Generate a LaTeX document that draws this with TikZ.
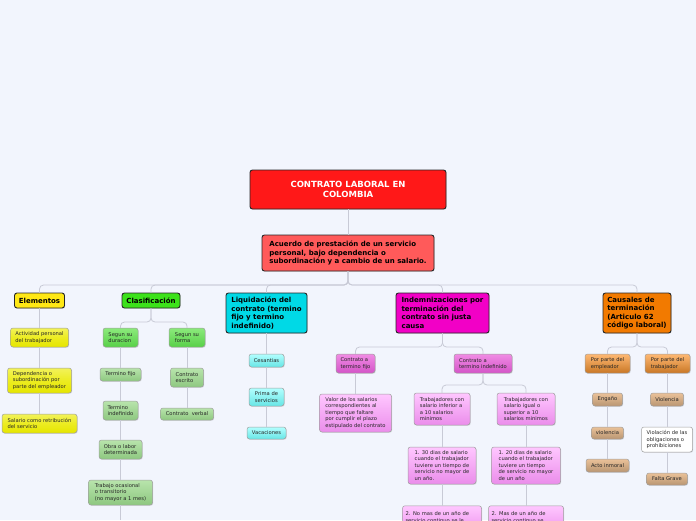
\documentclass[tikz,border=0pt]{standalone}
\usepackage{fontspec}
\setmainfont{DejaVu Sans}
\usepackage{tikz}
\usetikzlibrary{shadows}
\definecolor{bgcol}{HTML}{F2F5FD}
\definecolor{lineg}{HTML}{C8CAD6}
\definecolor{titlered}{HTML}{FF1818}
\definecolor{acuerdored}{HTML}{FF5A5A}
\definecolor{elemyel}{HTML}{FFE815}
\definecolor{clasgreen}{HTML}{3CE21A}
\definecolor{liqcyan}{HTML}{00D9E6}
\definecolor{indmag}{HTML}{F200C6}
\definecolor{causor}{HTML}{F27A00}
\definecolor{grtop}{HTML}{8CEA7C}
\definecolor{grbot}{HTML}{58D048}
\definecolor{glftop}{HTML}{B8E4AC}
\definecolor{glfbot}{HTML}{8EC880}
\definecolor{mgtop}{HTML}{F08CE4}
\definecolor{mgbot}{HTML}{D454C8}
\tikzset{
  box/.style={rounded corners=2.5pt, inner sep=2pt, align=left,
    drop shadow={shadow xshift=0.7pt, shadow yshift=-0.7pt, opacity=0.25}},
  topic/.style={box, draw=black!85, line width=0.9pt, text=black,
    font=\bfseries\fontsize{7}{8.5}\selectfont},
  sub/.style={box, draw=gray!75, line width=0.5pt, text=black!85,
    font=\fontsize{5.2}{6.5}\selectfont},
  yelkid/.style={sub, top color=yellow!55!white!90!olive, bottom color=yellow!80!olive},
  greenkid/.style={sub, top color=grtop, bottom color=grbot},
  greenleaf/.style={sub, top color=glftop, bottom color=glfbot},
  cyankid/.style={sub, top color=cyan!30!white, bottom color=cyan!55!white!90!black},
  magkid/.style={sub, top color=mgtop, bottom color=mgbot},
  magleaf/.style={sub, top color=magenta!22!white, bottom color=magenta!40!white!92!black},
  orkid/.style={sub, top color=orange!55!white, bottom color=orange!75!black!85!white},
  orleaf/.style={sub, top color=orange!35!white!92!black, bottom color=orange!50!black!55!white},
  conn/.style={draw=lineg, line width=0.8pt, rounded corners=4pt},
}
\begin{document}
\begin{tikzpicture}[x=1pt, y=-1pt]
  \fill[bgcol] (0,0) rectangle (696,520);
  \useasboundingbox (0,0) rectangle (696,520);
  \clip (0,0) rectangle (696,520);

  % main topic
  \node[box, draw=black!85, line width=0.9pt, fill=titlered, text=white, align=center,
    font=\bfseries\fontsize{8.5}{10.5}\selectfont, minimum width=196pt, minimum height=39pt]
    (title) at (348,189.5) {CONTRATO LABORAL EN\\COLOMBIA};
  \node[topic, fill=acuerdored, minimum width=172pt, minimum height=36pt]
    (acuerdo) at (348,253) {Acuerdo de prestación de un servicio\\personal, bajo dependencia o\\subordinación y a cambio de un salario.};

  % main branches
  \node[topic, fill=elemyel, align=center, minimum width=50pt, minimum height=15pt] (elem) at (39.5,300.5) {Elementos};
  \node[topic, fill=clasgreen, align=center, minimum width=58pt, minimum height=15pt] (clasif) at (151,300.5) {Clasificación};
  \node[topic, fill=liqcyan, minimum width=81pt, minimum height=40pt] (liquid) at (266.5,313)
    {Liquidación del\\contrato (termino\\fijo y termino\\indefinido)};
  \node[topic, fill=indmag, minimum width=93pt, minimum height=40pt] (indem) at (442.5,313)
    {Indemnizaciones por\\terminación del\\contrato sin justa\\causa};
  \node[topic, fill=causor, minimum width=68pt, minimum height=40pt] (causal) at (637,313)
    {Causales de\\terminación\\(Articulo 62\\código laboral)};

  % Elementos
  \node[yelkid, minimum width=58pt, minimum height=19pt] (act) at (39.5,337.5) {Actividad personal\\del trabajador};
  \node[yelkid, minimum width=64pt, minimum height=25pt] (dep) at (39.5,380.5) {Dependencia o\\subordinación por\\parte del empleador};
  \node[yelkid, minimum width=75pt, minimum height=19pt] (sal) at (39.5,423.5) {Salario como retribución\\del servicio};

  % Clasificacion
  \node[greenkid, minimum width=35pt, minimum height=19pt] (durac) at (120.5,337.5) {Segun su\\duracion};
  \node[greenkid, minimum width=36pt, minimum height=19pt] (forma) at (187,337.5) {Segun su\\forma};
  \node[greenleaf, align=center, minimum width=41pt, minimum height=13pt] (tfijo) at (120.5,374.5) {Termino fijo};
  \node[greenleaf, minimum width=35pt, minimum height=19pt] (tindef) at (120.5,410.5) {Termino\\indefinido};
  \node[greenleaf, minimum width=43pt, minimum height=19pt] (obra) at (120.5,449.5) {Obra o labor\\determinada};
  \node[greenleaf, minimum width=64pt, minimum height=25pt] (ocas) at (120.5,492.5) {Trabajo ocasional\\o transitorio\\(no mayor a 1 mes)};
  \node[greenleaf, minimum width=33pt, minimum height=19pt] (escrito) at (187,377.5) {Contrato\\escrito};
  \node[greenleaf, align=center, minimum width=53pt, minimum height=12pt] (verbal) at (187,414) {Contrato\ \ verbal};
  \coordinate (ocasEnd) at (120.5,520);

  % Liquidacion
  \node[cyankid, align=center, minimum width=35pt, minimum height=13pt] (ces) at (266.5,360.5) {Cesantias};
  \node[cyankid, minimum width=35pt, minimum height=18pt] (prima) at (266.5,397) {Prima de\\servicios};
  \node[cyankid, align=center, minimum width=39pt, minimum height=12pt] (vac) at (266.5,433) {Vacaciones};

  % Indemnizaciones
  \node[magkid, minimum width=39pt, minimum height=19pt] (cfijo) at (355.5,363.5) {Contrato a\\termino fijo};
  \node[magkid, minimum width=58pt, minimum height=19pt] (cindef) at (483,363.5) {Contrato a\\termino indefinido};
  \node[magleaf, minimum width=72pt, minimum height=38pt] (valor) at (355.5,413)
    {Valor de los salarios\\correspondientes al\\tiempo que faltare\\por cumplir el plazo\\estipulado del contrato};
  \node[magleaf, minimum width=56pt, minimum height=32pt] (inf) at (442,409)
    {Trabajadores con\\salario inferior a\\a 10 salarios\\minimos};
  \node[magleaf, minimum width=58pt, minimum height=32pt] (sup) at (526,409)
    {Trabajadores con\\salario igual o\\superior a 10\\salarios minimos};
  \node[magleaf, minimum width=68pt, minimum height=37pt] (d30) at (442,465.5)
    {1. 30 dias de salario\\cuando el trabajador\\tuviere un tiempo de\\servicio no mayor de\\un año.};
  \node[magleaf, minimum width=69pt, minimum height=37pt] (d20) at (526,465.5)
    {1. 20 dias de salario\\cuando el trabajador\\tuviere un tiempo\\de servicio no mayor\\de un año};
  \node[magleaf, anchor=north, text width=73pt, inner xsep=3pt, inner ysep=1pt, minimum height=30pt, text depth=14pt] (n2a) at (442,505.5)
    {2. No mas de un año de\\servicio continuo se le};
  \node[magleaf, anchor=north, text width=69pt, inner xsep=3pt, inner ysep=1pt, minimum height=30pt, text depth=14pt] (n2b) at (526,505.5)
    {2. Mas de un año de\\servicio continuo se};

  % Causales
  \node[orkid, minimum width=45pt, minimum height=19pt] (empl) at (607.5,363.5) {Por parte del\\empleador};
  \node[orkid, minimum width=45pt, minimum height=19pt] (trab) at (667.5,363.5) {Por parte del\\trabajador};
  \node[orleaf, align=center, minimum width=30pt, minimum height=13pt] (engano) at (607.5,399.5) {Engaño};
  \node[orleaf, align=center, minimum width=32pt, minimum height=12pt] (viola) at (607.5,433) {violencia};
  \node[orleaf, align=center, minimum width=43pt, minimum height=13pt] (acto) at (607.5,465.5) {Acto inmoral};
  \node[orleaf, align=center, minimum width=33pt, minimum height=13pt] (violb) at (667,399.5) {Violencia};
  \node[sub, fill=white, minimum width=51pt, minimum height=25pt] (oblig) at (667,439.5)
    {Violación de las\\obligaciones o\\prohibiciones};
  \node[orleaf, align=center, minimum width=41pt, minimum height=12pt] (falta) at (667,479) {Falta Grave};

  % buses
  \coordinate (busA) at (348,285);
  \coordinate (busC) at (151,322);
  \coordinate (busI) at (442.5,347);
  \coordinate (busT) at (483,385);
  \coordinate (busK) at (637,347);
  \draw[conn] (title) -- (acuerdo);
  \foreach \n in {elem,clasif,liquid,indem,causal}
    \draw[conn] (acuerdo.south) -- (busA) -| (\n.north);
  \foreach \n in {durac,forma}
    \draw[conn] (clasif.south) -- (busC) -| (\n.north);
  \foreach \n in {cfijo,cindef}
    \draw[conn] (indem.south) -- (busI) -| (\n.north);
  \foreach \n in {inf,sup}
    \draw[conn] (cindef.south) -- (busT) -| (\n.north);
  \foreach \n in {empl,trab}
    \draw[conn] (causal.south) -- (busK) -| (\n.north);

  % chains
  \foreach \a/\b in {elem/act,act/dep,dep/sal,durac/tfijo,tfijo/tindef,tindef/obra,obra/ocas,
    forma/escrito,escrito/verbal,liquid/ces,ces/prima,prima/vac,cfijo/valor,inf/d30,d30/n2a,
    sup/d20,d20/n2b,empl/engano,engano/viola,viola/acto,trab/violb,violb/oblig,oblig/falta}
    \draw[conn] (\a.south) -- (\a.south |- \b.north);
  \draw[conn] (ocas.south) -- (ocasEnd);
\end{tikzpicture}
\end{document}
